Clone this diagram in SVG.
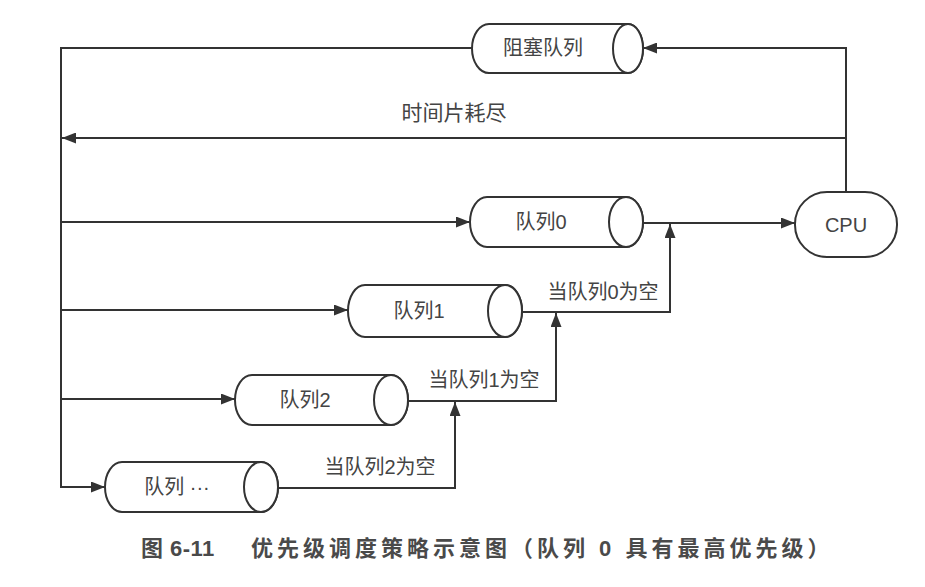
<svg xmlns="http://www.w3.org/2000/svg" width="925" height="587" viewBox="0 0 925 587">
<defs>
<marker id="arr" markerUnits="userSpaceOnUse" markerWidth="15" markerHeight="11" refX="14" refY="5.5" orient="auto">
<path d="M0,0 L14,5.5 L0,11 Z" fill="#333"/>
</marker>
<style>
.sh{fill:#fff;stroke:#333;stroke-width:2}
.ln{fill:none;stroke:#333;stroke-width:2}
.t{font-family:"Liberation Sans","Noto Sans CJK SC",sans-serif;font-size:20px;fill:#444;text-anchor:middle;dominant-baseline:central}
.cap{font-family:"Liberation Sans","Noto Sans CJK SC",sans-serif;font-size:22px;font-weight:bold;fill:#4a4a4a;letter-spacing:4px}
</style>
</defs>
<rect width="925" height="587" fill="#fff"/>
<g id="connectors">
<path class="ln" d="M846,192 V48 H643" marker-end="url(#arr)"/>
<path class="ln" d="M472,48 H61 V487 H105" marker-end="url(#arr)"/>
<path class="ln" d="M846,138 H62" marker-end="url(#arr)"/>
<path class="ln" d="M61,222 H470" marker-end="url(#arr)"/>
<path class="ln" d="M61,310 H348" marker-end="url(#arr)"/>
<path class="ln" d="M61,399 H235" marker-end="url(#arr)"/>
<path class="ln" d="M643,223 H795" marker-end="url(#arr)"/>
<path class="ln" d="M522,312 H670 V224" marker-end="url(#arr)"/>
<path class="ln" d="M408,401 H556 V313" marker-end="url(#arr)"/>
<path class="ln" d="M278,488 H455 V402" marker-end="url(#arr)"/>
<text class="t" x="454" y="112" style="font-size:21px">时间片耗尽</text>
<text class="t" x="603" y="292">当队列0为空</text>
<text class="t" x="484" y="380">当队列1为空</text>
<text class="t" x="380" y="467">当队列2为空</text>
</g>
<g id="blocked">
<path class="sh" d="M489,24 H628 A15,24.5 0 0 1 628,73 H489 A17,24.5 0 0 1 489,24 Z"/>
<ellipse class="sh" cx="628" cy="48.5" rx="15" ry="24.5"/>
<text class="t" x="543" y="48">阻塞队列</text>
</g>
<g id="queue0">
<path class="sh" d="M487,197 H626 A17,25 0 0 1 626,247 H487 A17,25 0 0 1 487,197 Z"/>
<ellipse class="sh" cx="626" cy="222" rx="17" ry="25"/>
<text class="t" x="541" y="222">队列0</text>
</g>
<g id="queue1">
<path class="sh" d="M365,285 H505 A17,26 0 0 1 505,337 H365 A17,26 0 0 1 365,285 Z"/>
<ellipse class="sh" cx="505" cy="311" rx="17" ry="26"/>
<text class="t" x="419" y="311">队列1</text>
</g>
<g id="queue2">
<path class="sh" d="M252,375 H391 A17,25 0 0 1 391,425 H252 A17,25 0 0 1 252,375 Z"/>
<ellipse class="sh" cx="391" cy="400" rx="17" ry="25"/>
<text class="t" x="305" y="400">队列2</text>
</g>
<g id="queueN">
<path class="sh" d="M122,462 H261 A17,25 0 0 1 261,512 H122 A17,25 0 0 1 122,462 Z"/>
<ellipse class="sh" cx="261" cy="487" rx="17" ry="25"/>
<text class="t" x="177" y="487">队列 ···</text>
</g>
<g id="cpu">
<rect class="sh" x="795" y="192" width="102" height="65" rx="32" ry="32"/>
<text class="t" x="846" y="225">CPU</text>
</g>
<g id="caption">
<text class="cap" x="141" y="556" style="letter-spacing:0.5px">图</text>
<text class="cap" x="170" y="556" style="letter-spacing:0.5px">6-11</text>
<text class="cap" x="251" y="556">优先级调度策略示意图（队列 0 具有最高优先级）</text>
</g>
</svg>
